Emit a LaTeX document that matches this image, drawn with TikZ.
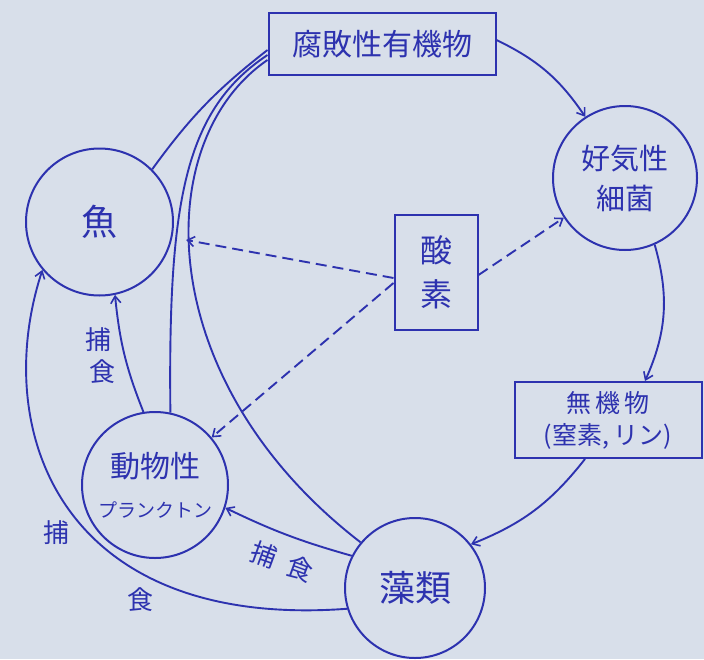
\documentclass[tikz,border=0pt]{standalone}
\usepackage{fontspec}
\newfontfamily\jp{Noto Sans CJK JP}
\usetikzlibrary{arrows.meta}
\definecolor{ink}{RGB}{45,50,175}
\definecolor{paper}{RGB}{216,223,234}
\begin{document}
\begin{tikzpicture}[x=1pt,y=-1pt,
  every node/.style={text=ink},
  box/.style={draw=ink, line width=2pt, rectangle, inner sep=0pt, align=center},
  orb/.style={draw=ink, line width=2pt, circle, inner sep=0pt, align=center},
  flow/.style={draw=ink, line width=1.9pt, -{Straight Barb[length=7pt,width=10pt,line width=1.6pt]}},
  link/.style={draw=ink, line width=1.9pt},
  oxy/.style={flow, dash pattern=on 11pt off 6pt},
  lbl/.style={font=\jp\fontsize{26}{28}\selectfont, inner sep=0pt}
]
\fill[paper] (0,0) rectangle (704,659);
\useasboundingbox (0,0) rectangle (704,659);

% nodes
\node[box, minimum width=227pt, minimum height=62pt, font=\jp\fontsize{30}{36}\selectfont] (top) at (382,44) {腐敗性有機物};
\node[orb, minimum size=144pt, font=\jp\fontsize{29}{40}\selectfont] (aer) at (625,178) {好気性\\細菌};
\node[box, minimum width=83pt, minimum height=115pt, font=\jp\fontsize{32}{44}\selectfont] (ox) at (436,272) {酸\\素};
\node[box, minimum width=187pt, minimum height=76pt, font=\jp\fontsize{25}{32}\selectfont] (inorg) at (608,420) {無\,機\,物\\(窒素,\,リン)};
\node[orb, minimum size=147pt, font=\jp\fontsize{36}{40}\selectfont] (fish) at (99.5,222) {魚};
\node[orb, minimum size=146pt, font=\jp\fontsize{30}{40}\selectfont] (plk) at (155,485) {動物性\\{\fontsize{19}{20}\selectfont プランクトン}};
\node[orb, minimum size=140pt, font=\jp\fontsize{36}{40}\selectfont] (alg) at (415,588) {藻類};

% cycle
\draw[flow] ([yshift=4pt]top.east) to[bend left=15] (aer.123);
\draw[flow] (aer.-66) to[bend left=20] ([xshift=37pt]inorg.north);
\draw[flow] ([xshift=-23pt]inorg.south) to[bend left=15] (alg.38);
\draw[flow] (alg.153) to[bend left=5] (plk.-18);
\draw[flow] (alg.197) .. controls (60,630) and (-10,430) .. (fish.220);
\draw[flow] (plk.99) to[bend left=8] (fish.-78);

% decomposition links
\draw[link] (fish.45) to[bend left=8] ([yshift=-6pt]top.west);
\draw[link] (plk.78) .. controls (168,200) and (185,110) .. ([yshift=-11pt]top.west);
\draw[link] (alg.140) .. controls (150,380) and (150,140) .. ([yshift=-16pt]top.west);

% oxygen
\draw[oxy, shorten >=14pt] ([yshift=-6pt]ox.west) -- (fish.-12);
\draw[oxy] ([yshift=-11pt]ox.west) -- (plk.40);
\draw[oxy] ([yshift=-3pt]ox.east) -- (aer.213);

% labels
\node[lbl] (l1) at (98,340) {捕};
\node[lbl] (l2) at (102,372) {食};
\node[lbl, rotate=-20] (l3) at (264,555) {捕};
\node[lbl, rotate=-20] (l3b) at (300,569) {食};
\node[lbl] (l4) at (56,533) {捕};
\node[lbl] (l5) at (140,600) {食};
\end{tikzpicture}
\end{document}
